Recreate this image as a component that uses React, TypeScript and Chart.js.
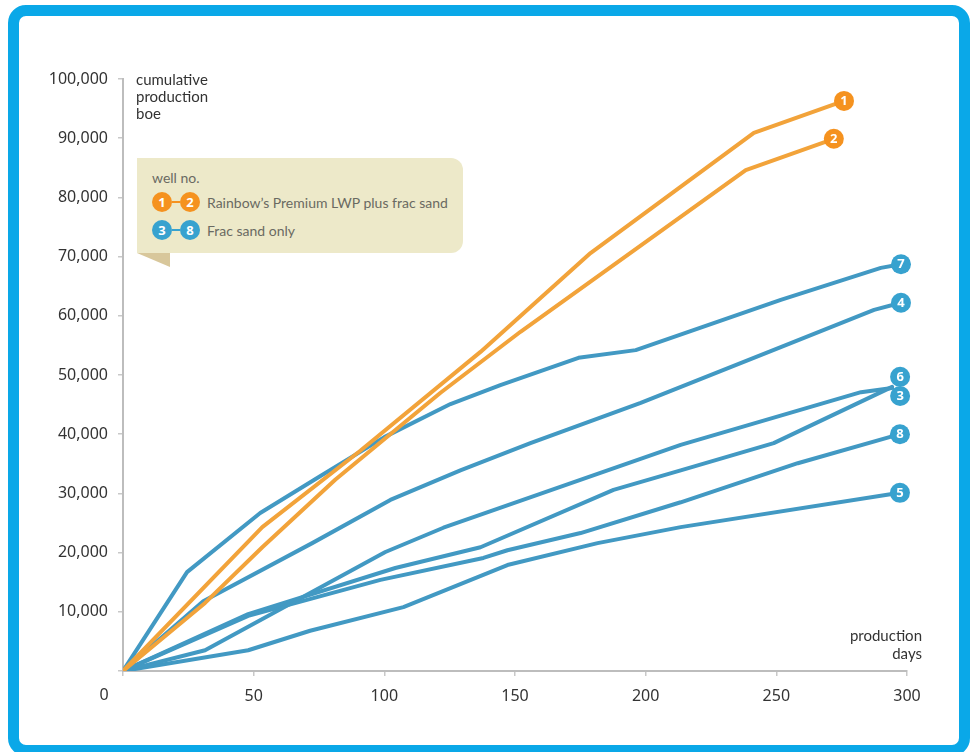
import React, { useEffect, useRef } from 'react';
import { Chart, registerables } from 'chart.js';

Chart.register(...registerables);

// Cumulative production (boe) against production days for each well.
const WELL_1_DAYS = [0, 53.3, 90.8, 136.8, 178.9, 241.4, 275.9];
const WELL_1_BOE = [0, 24300, 37200, 53900, 70600, 90900, 96300];

const WELL_2_DAYS = [0, 31.4, 53.3, 81.2, 121.5, 152.1, 238.3, 272.0];
const WELL_2_BOE = [0, 11500, 20900, 32300, 47000, 57300, 84600, 89900];

const WELL_3_DAYS = [0, 31.4, 100.4, 122.6, 213.4, 282.4, 294.3];
const WELL_3_BOE = [0, 3500, 20100, 24200, 38200, 47100, 47800];

const WELL_4_DAYS = [0, 30.7, 72.4, 102.3, 129.1, 155.9, 198.1, 251.7, 287.4, 297.7];
const WELL_4_BOE = [0, 11800, 21600, 28900, 33900, 38500, 45300, 54700, 61000, 62200];

const WELL_5_DAYS = [0, 47.9, 71.6, 107.3, 147.1, 181.6, 213.4, 297.3];
const WELL_5_BOE = [0, 3500, 6800, 10800, 17900, 21600, 24300, 30100];

const WELL_6_DAYS = [0, 47.9, 104.2, 136.8, 187.7, 213.4, 249.0, 294.3];
const WELL_6_BOE = [0, 9600, 17400, 20900, 30600, 33900, 38500, 48000];

const WELL_7_DAYS = [0, 24.5, 52.5, 75.1, 100, 125.3, 144.4, 174.3, 196.2, 251.7, 290, 297.7];
const WELL_7_BOE = [0, 16700, 26700, 32800, 39500, 45100, 48300, 52900, 54200, 62700, 68100, 68700];

const WELL_8_DAYS = [0, 47.9, 98.5, 137.9, 147.1, 175.1, 213.4, 258.2, 297.3];
const WELL_8_BOE = [0, 9300, 15400, 19100, 20400, 23300, 28500, 35100, 40000];

const X_TICKS = [0, 50, 100, 150, 200, 250, 300];
const Y_MAX = 100000;
const Y_STEP = 10000;

const LEGEND_TITLE = 'well no.';
const LEGEND_LWP = "Rainbow\u2019s Premium LWP plus frac sand";
const LEGEND_SAND = 'Frac sand only';

const ORANGE_LINE = '#f2a33a';
const ORANGE_BADGE = '#f5921f';
const BLUE_LINE = '#4299c3';
const BLUE_BADGE = '#37a2cf';
const FRAME_BLUE = '#0aa8e8';

const toPoints = (days: number[], boe: number[]) => days.map((d, i) => ({ x: d, y: boe[i] }));

type Badge = { label: string; color: string; dx: number; dy: number };

const wellSet = (
  label: string,
  days: number[],
  boe: number[],
  line: string,
  badge: Badge
) => ({
  label,
  data: toPoints(days, boe),
  borderColor: line,
  backgroundColor: line,
  borderWidth: 4,
  pointRadius: 0,
  pointHoverRadius: 0,
  tension: 0,
  fill: false,
  borderJoinStyle: 'round' as const,
  borderCapStyle: 'round' as const,
  badge,
});

// Numbered circle at the end of each well's curve.
const endBadges = {
  id: 'endBadges',
  afterDatasetsDraw(chart: any) {
    const ctx = chart.ctx;
    chart.data.datasets.forEach((ds: any, i: number) => {
      const meta = chart.getDatasetMeta(i);
      const last = meta.data[meta.data.length - 1];
      if (!last || !ds.badge) return;
      const cx = last.x + ds.badge.dx;
      const cy = last.y + ds.badge.dy;
      ctx.save();
      ctx.beginPath();
      ctx.arc(cx, cy, 10, 0, Math.PI * 2);
      ctx.fillStyle = ds.badge.color;
      ctx.fill();
      ctx.fillStyle = '#ffffff';
      ctx.font = 'bold 13px "Noto Sans"';
      ctx.textAlign = 'center';
      ctx.textBaseline = 'middle';
      ctx.fillText(ds.badge.label, cx, cy + 0.5);
      ctx.restore();
    });
  },
};

// The shared origin label sits in the corner, left of the axis crossing.
const originLabel = {
  id: 'originLabel',
  afterDraw(chart: any) {
    const xs = chart.scales.x;
    const ctx = chart.ctx;
    ctx.save();
    ctx.fillStyle = '#333333';
    ctx.font = '16px "Noto Sans"';
    ctx.textAlign = 'center';
    ctx.textBaseline = 'middle';
    ctx.fillText(String(X_TICKS[0]), xs.getPixelForValue(X_TICKS[0]) - 19, xs.top + 24);
    ctx.restore();
  },
};

function Circle({ n, color }: { n: string; color: string }) {
  return (
    <span
      style={{
        display: 'inline-flex',
        alignItems: 'center',
        justifyContent: 'center',
        width: 20,
        height: 20,
        borderRadius: '50%',
        background: color,
        color: '#fff',
        font: 'bold 13px "Noto Sans"',
        lineHeight: '20px',
      }}
    >
      {n}
    </span>
  );
}

function LegendRow({ a, b, color, text, top }: { a: string; b: string; color: string; text: string; top: number }) {
  return (
    <div style={{ position: 'absolute', left: 15, top, height: 20, display: 'flex', alignItems: 'center' }}>
      <Circle n={a} color={color} />
      <span style={{ width: 8, height: 2.5, background: color }} />
      <Circle n={b} color={color} />
      <span style={{ marginLeft: 7, font: '14px Lato', color: '#6a6a62', whiteSpace: 'nowrap' }}>{text}</span>
    </div>
  );
}

export default function App() {
  const canvasRef = useRef<HTMLCanvasElement | null>(null);

  useEffect(() => {
    const canvas = canvasRef.current;
    if (!canvas) return;
    const tickFont = { family: '"Noto Sans"', size: 16 };
    const chart = new Chart(canvas, {
      type: 'line',
      data: {
        datasets: [
          wellSet('1', WELL_1_DAYS, WELL_1_BOE, ORANGE_LINE, { label: '1', color: ORANGE_BADGE, dx: 0, dy: 0 }),
          wellSet('2', WELL_2_DAYS, WELL_2_BOE, ORANGE_LINE, { label: '2', color: ORANGE_BADGE, dx: 0, dy: 0 }),
          wellSet('7', WELL_7_DAYS, WELL_7_BOE, BLUE_LINE, { label: '7', color: BLUE_BADGE, dx: 0, dy: 0 }),
          wellSet('4', WELL_4_DAYS, WELL_4_BOE, BLUE_LINE, { label: '4', color: BLUE_BADGE, dx: 0, dy: 0 }),
          wellSet('6', WELL_6_DAYS, WELL_6_BOE, BLUE_LINE, { label: '6', color: BLUE_BADGE, dx: 8, dy: -10 }),
          wellSet('3', WELL_3_DAYS, WELL_3_BOE, BLUE_LINE, { label: '3', color: BLUE_BADGE, dx: 8, dy: 8 }),
          wellSet('8', WELL_8_DAYS, WELL_8_BOE, BLUE_LINE, { label: '8', color: BLUE_BADGE, dx: 0, dy: 0 }),
          wellSet('5', WELL_5_DAYS, WELL_5_BOE, BLUE_LINE, { label: '5', color: BLUE_BADGE, dx: 0, dy: 0 }),
        ] as any,
      },
      options: {
        responsive: false,
        animation: false,
        devicePixelRatio: 1,
        layout: { padding: { top: 79, right: 64, bottom: 0, left: 0 } },
        plugins: {
          legend: { display: false },
          tooltip: { enabled: false },
        },
        scales: {
          x: {
            type: 'linear',
            min: X_TICKS[0],
            max: X_TICKS[X_TICKS.length - 1],
            border: { color: '#bdbdbd', width: 2 },
            grid: { drawOnChartArea: false, drawTicks: true, tickLength: 5, color: '#c8c8c8', lineWidth: 1.5 },
            ticks: {
              stepSize: X_TICKS[1] - X_TICKS[0],
              padding: 11,
              color: '#333333',
              font: tickFont,
              maxRotation: 0,
              autoSkip: false,
              callback: (v: any) => (Number(v) === X_TICKS[0] ? '' : String(v)),
            },
            afterFit: (s: any) => {
              s.height = 81;
            },
          },
          y: {
            type: 'linear',
            min: 0,
            max: Y_MAX,
            border: { color: '#bdbdbd', width: 2 },
            grid: { drawOnChartArea: false, drawTicks: true, tickLength: 5, color: '#c8c8c8', lineWidth: 1.5 },
            ticks: {
              stepSize: Y_STEP,
              padding: 10,
              color: '#333333',
              font: tickFont,
              callback: (v: any) => (Number(v) === 0 ? '' : Number(v).toLocaleString('en-US')),
            },
            afterFit: (s: any) => {
              s.width = 123;
            },
          },
        },
      } as any,
      plugins: [endBadges, originLabel],
    });
    return () => chart.destroy();
  }, []);

  return (
    <div
      style={{
        position: 'absolute',
        left: 0,
        top: 0,
        width: 971,
        height: 752,
        overflow: 'hidden',
        background: '#ffffff',
      }}
    >
      <div
        style={{
          position: 'absolute',
          left: 8,
          top: 5,
          width: 962,
          height: 751,
          boxSizing: 'border-box',
          border: `11px solid ${FRAME_BLUE}`,
          borderRadius: 18,
          background: '#ffffff',
        }}
      />
      <canvas ref={canvasRef} width={971} height={752} style={{ position: 'absolute', left: 0, top: 0, width: 971, height: 752 }} />

      <div
        style={{
          position: 'absolute',
          left: 136,
          top: 71,
          font: '15px Lato',
          lineHeight: '17px',
          color: '#333',
        }}
      >
        cumulative
        <br />
        production
        <br />
        boe
      </div>

      <div
        style={{
          position: 'absolute',
          right: 971 - 922,
          top: 626,
          font: '15px Lato',
          lineHeight: '18px',
          color: '#333',
          textAlign: 'right',
        }}
      >
        production
        <br />
        days
      </div>

      <div
        style={{
          position: 'absolute',
          left: 137,
          top: 158,
          width: 326,
          height: 95,
          background: '#ede9c9',
          borderRadius: '0 12px 12px 0',
        }}
      >
        <div style={{ position: 'absolute', left: 15, top: 11, font: '14px Lato', color: '#6a6a62' }}>{LEGEND_TITLE}</div>
        <LegendRow a="1" b="2" color={ORANGE_BADGE} text={LEGEND_LWP} top={34} />
        <LegendRow a="3" b="8" color={BLUE_BADGE} text={LEGEND_SAND} top={62} />
      </div>
      <div
        style={{
          position: 'absolute',
          left: 137,
          top: 253,
          width: 33,
          height: 14,
          background: '#d8c79b',
          clipPath: 'polygon(0 0, 100% 0, 100% 100%)',
        }}
      />
    </div>
  );
}
